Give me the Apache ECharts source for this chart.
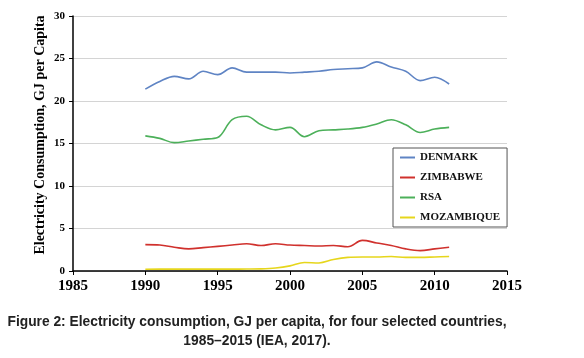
<!DOCTYPE html>
<html>
<head>
<meta charset="utf-8">
<script src="https://cdn.jsdelivr.net/npm/echarts@6/dist/echarts.min.js"></script>
<style>
html,body{margin:0;padding:0;background:#fff;}
#c{width:584px;height:358px;}
</style>
</head>
<body>
<div id="c"></div>
<script>
var years = [1990,1991,1992,1993,1994,1995,1996,1997,1998,1999,2000,2001,2002,2003,2004,2005,2006,2007,2008,2009,2010,2011];
var denmark = [21.4,22.3,22.9,22.6,23.5,23.1,23.9,23.4,23.4,23.4,23.3,23.4,23.5,23.7,23.8,23.9,24.6,24.0,23.5,22.4,22.8,22.0];
var zimbabwe = [3.1,3.05,2.8,2.6,2.75,2.9,3.05,3.2,3.0,3.2,3.05,3.0,2.95,3.0,2.86,3.6,3.3,3.0,2.6,2.4,2.6,2.8];
var rsa = [15.9,15.6,15.1,15.3,15.5,15.7,17.8,18.2,17.2,16.6,16.9,15.8,16.5,16.6,16.7,16.9,17.3,17.8,17.2,16.3,16.7,16.9];
var mozambique = [0.2,0.22,0.22,0.22,0.22,0.22,0.22,0.23,0.25,0.35,0.6,1.0,0.95,1.35,1.6,1.65,1.65,1.7,1.6,1.6,1.65,1.7];
var seriesNames = ['DENMARK','ZIMBABWE','RSA','MOZAMBIQUE'];
var seriesColors = ['#5f84c4','#d0312d','#4cb05a','#e6d61c'];
var xTicks = {min:1985, max:2015, interval:5};
var yTicks = {min:0, max:30, interval:5};
var yTitle = 'Electricity Consumption, GJ per Capita';
var caption = 'Figure 2: Electricity consumption, GJ per capita, for four selected countries,\n1985\u20132015 (IEA, 2017).';

function pairs(v){ return years.map(function(y,i){ return [y, v[i]]; }); }
var dataSets = [denmark, zimbabwe, rsa, mozambique];

var chart = echarts.init(document.getElementById('c'), null, {renderer:'canvas'});
var serif = '"Liberation Serif", "DejaVu Serif", serif';
chart.setOption({
  animation:false,
  backgroundColor:'#fff',
  grid:{left:73, right:77, top:16, bottom:87},
  xAxis:{
    type:'value', min:xTicks.min, max:xTicks.max, interval:xTicks.interval,
    axisLine:{lineStyle:{color:'#000', width:1.5}},
    axisTick:{show:true, length:4, lineStyle:{color:'#000', width:1}},
    splitLine:{show:false},
    axisLabel:{color:'#000', fontFamily:serif, fontWeight:'bold', fontSize:15, margin:8,
               formatter:function(v){ return String(v); }}
  },
  yAxis:{
    type:'value', min:yTicks.min, max:yTicks.max, interval:yTicks.interval,
    axisLine:{show:true, lineStyle:{color:'#000', width:1.5}},
    axisTick:{show:true, length:4, lineStyle:{color:'#000', width:1}},
    splitLine:{show:true, lineStyle:{color:'#d4d4d4', width:1}},
    axisLabel:{color:'#000', fontFamily:serif, fontWeight:'bold', fontSize:11, margin:8}
  },
  legend:{
    orient:'vertical', left:393, top:148,
    backgroundColor:'#fff', borderColor:'#555', borderWidth:1,
    padding:[4,7,4,6], itemGap:9, itemWidth:15, itemHeight:10,
    itemStyle:{opacity:0},
    lineStyle:{opacity:1},
    textStyle:{color:'#111', fontFamily:serif, fontWeight:'bold', fontSize:11},
    data:seriesNames, z:10
  },
  graphic:[
    {type:'text', x:40, y:135, rotation:Math.PI/2,
     style:{text:yTitle, textAlign:'center', textVerticalAlign:'middle',
            font:'bold 14px "Liberation Serif", serif', fill:'#000'}},
    {type:'text', x:257, y:313,
     style:{text:caption, textAlign:'center', textVerticalAlign:'top', lineHeight:19,
            font:'bold 13.8px "Liberation Sans", Arial, sans-serif', fill:'#222'}}
  ],
  series:seriesNames.map(function(n,i){
    return {name:n, type:'line', data:pairs(dataSets[i]), smooth:0.35, symbol:'none',
            lineStyle:{color:seriesColors[i], width:1.6}, itemStyle:{color:seriesColors[i]}};
  })
});
</script>
</body>
</html>
